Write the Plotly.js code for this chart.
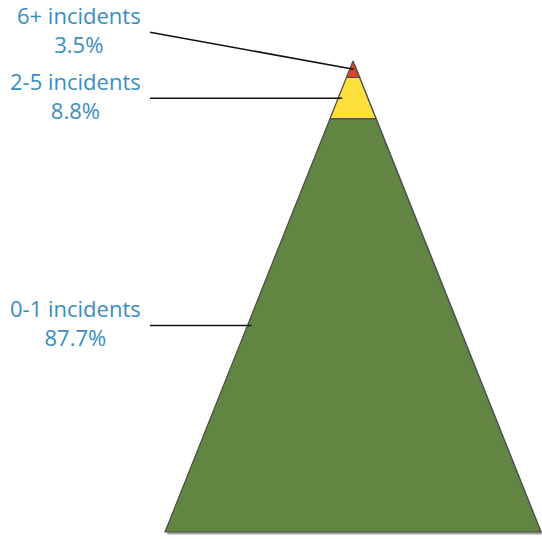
<!DOCTYPE html>
<html>
<head>
<meta charset="utf-8">
<script src="https://cdn.plot.ly/plotly-3.0.1.min.js"></script>
<style>html,body{margin:0;padding:0;background:#fff;}#chart{width:542px;height:539px;}</style>
</head>
<body>
<div id="chart"></div>
<script>
// ---- data ----
const categories = ['6+ incidents', '2-5 incidents', '0-1 incidents'];
const values = [3.5, 8.8, 87.7];
const colors = ['#d9472b', '#fde03c', '#628641'];

// ---- geometry (layout constants) ----
const W = 542, H = 539;
const APEX_X = 353, HALF_BASE = 188;
const TOP_PX = 61, BASE_PX = 532;
const PX_PER_UNIT = (BASE_PX - TOP_PX) / 100;
const yRange = [100 + (H - BASE_PX) / PX_PER_UNIT, -TOP_PX / PX_PER_UNIT];
const total = values.reduce((a, b) => a + b, 0);
const half = d => HALF_BASE * d / total;

const traces = [];
// shadow
const sh = 2.5 / PX_PER_UNIT;
traces.push({
  x: [APEX_X + 2, APEX_X + 2 + HALF_BASE, APEX_X + 2 - HALF_BASE, APEX_X + 2],
  y: [sh, total + sh, total + sh, sh],
  mode: 'lines', fill: 'toself', fillcolor: 'rgba(0,0,0,0.35)',
  line: {width: 0}, hoverinfo: 'skip', showlegend: false
});
let cum = 0;
const mids = [];
values.forEach((v, i) => {
  const a = cum, b = cum + v;
  traces.push({
    x: [APEX_X - half(a), APEX_X + half(a), APEX_X + half(b), APEX_X - half(b), APEX_X - half(a)],
    y: [a, a, b, b, a],
    mode: 'lines', fill: 'toself', fillcolor: colors[i],
    line: {color: '#4a4a4a', width: 1.2}, hoverinfo: 'skip', showlegend: false
  });
  mids.push((a + b) / 2);
  cum = b;
});

// label placement: from bottom up, keep labels apart
const LABEL_GAP = 66 / PX_PER_UNIT;
const labelY = new Array(values.length);
for (let i = values.length - 1; i >= 0; i--) {
  labelY[i] = i === values.length - 1 ? mids[i] : Math.min(mids[i], labelY[i + 1] - LABEL_GAP);
}
const annotations = [], shapes = [];
values.forEach((v, i) => {
  annotations.push({
    x: 143, y: labelY[i], xref: 'x', yref: 'y', xanchor: 'right', yanchor: 'middle',
    align: 'center', showarrow: false, yshift: 3,
    text: categories[i] + '<br>' + v.toFixed(1) + '%',
    font: {family: 'Open Sans', size: 22, color: '#3a8dc1'}
  });
  shapes.push({
    type: 'line', xref: 'x', yref: 'y',
    x0: 150, y0: labelY[i], x1: APEX_X - half(mids[i]) + 4, y1: mids[i],
    line: {color: '#111', width: 1.5}
  });
});

Plotly.newPlot('chart', traces, {
  width: W, height: H,
  margin: {l: 0, r: 0, t: 0, b: 0},
  paper_bgcolor: '#fff', plot_bgcolor: '#fff',
  xaxis: {range: [0, W], visible: false, fixedrange: true},
  yaxis: {range: yRange, visible: false, fixedrange: true},
  annotations: annotations, shapes: shapes, showlegend: false
}, {staticPlot: true, displayModeBar: false});
</script>
</body>
</html>
